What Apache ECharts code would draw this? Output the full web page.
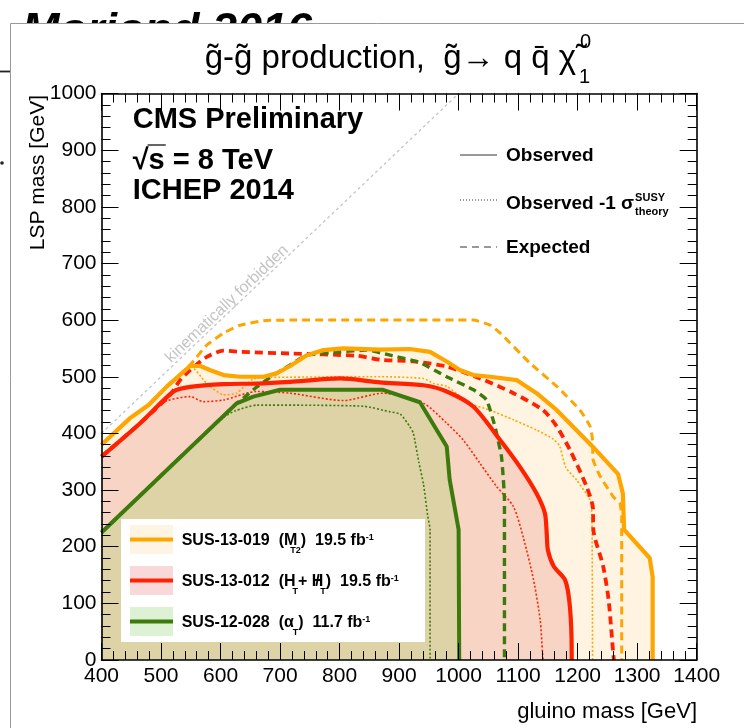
<!DOCTYPE html>
<html>
<head>
<meta charset="utf-8">
<script src="https://cdn.jsdelivr.net/npm/echarts@6/dist/echarts.min.js"></script>
<style>
  html, body { margin: 0; padding: 0; background: #fff; }
  #chart { width: 744px; height: 728px; }
</style>
</head>
<body>
<div id="chart"></div>
<script>
// Axis ticks (GeV)
const gluinoTicks = [400, 500, 600, 700, 800, 900, 1000, 1100, 1200, 1300, 1400];
const lspTicks = [0, 100, 200, 300, 400, 500, 600, 700, 800, 900, 1000];

// Kinematic boundary: LSP mass = gluino mass
const kinematicLimit = [[400, 400], [1000, 1000]];

// SUS-13-019 (MT2) exclusion contours [gluino mass, LSP mass]
const mt2Obs = [[400,380],[448,427],[479,450],[510,483],[549,519],[566,519],[582,512],[605,503],[633,500],[672,500],[694,506],[717,519],[745,538],[773,547],[806,550],[868,548],[918,549],[952,544],[980,527],[1002,512],[1025,503],[1053,500],[1098,494],[1131,471],[1165,441],[1225,377],[1268,328],[1276,294],[1278,230],[1321,180],[1326,147],[1326,0]];
const mt2ObsMinus = [[400,380],[448,427],[479,450],[510,483],[549,519],[577,488],[605,468],[627,471],[655,496],[700,499],[868,500],[941,497],[958,488],[980,483],[1019,453],[1053,441],[1092,424],[1131,406],[1159,390],[1170,377],[1180,340],[1198,318],[1221,282],[1224,253],[1225,0]];
const mt2Exp = [[400,380],[448,427],[479,450],[510,483],[549,521],[577,556],[605,577],[633,591],[672,599],[717,600],[1025,600],[1053,591],[1070,577],[1120,524],[1165,483],[1204,441],[1221,412],[1225,388],[1226,353],[1238,324],[1260,288],[1271,277],[1274,253],[1274,0]];

// SUS-13-012 (HT + missing HT) exclusion contours
const htmhtObs = [[400,359],[465,418],[521,474],[549,482],[605,487],[661,488],[717,491],[801,497],[868,490],[941,485],[980,474],[1025,447],[1070,388],[1103,341],[1131,294],[1145,259],[1148,224],[1150,194],[1160,165],[1179,141],[1187,94],[1190,12],[1190,0]];
const htmhtObsMinus = [[400,359],[465,418],[505,455],[549,465],[571,456],[605,459],[661,474],[717,471],[806,458],[873,471],[941,453],[980,418],[1008,388],[1036,347],[1064,306],[1092,271],[1109,215],[1126,141],[1137,71],[1141,12],[1142,0]];
const htmhtExp = [[400,359],[465,418],[515,468],[532,494],[549,512],[577,535],[605,546],[633,544],[717,541],[829,537],[868,530],[924,527],[980,518],[1036,497],[1092,471],[1142,441],[1165,412],[1187,371],[1215,306],[1226,265],[1226,235],[1243,165],[1252,106],[1260,9],[1261,0]];

// SUS-12-028 (alphaT) exclusion contours
const alphaTObs = [[400,225],[627,453],[655,465],[700,477],[873,477],[935,455],[980,377],[985,318],[1000,230],[1001,0]];
const alphaTObsMinus = [[400,225],[605,428],[625,440],[661,450],[840,448],[885,438],[902,434],[918,412],[924,400],[933,350],[941,310],[948,255],[952,230],[952,0]];
const alphaTExp = [[400,225],[627,453],[638,462],[661,482],[689,503],[717,521],[745,538],[801,544],[846,547],[885,538],[935,525],[980,500],[1025,477],[1047,459],[1061,412],[1072,359],[1077,282],[1077,0]];

const FONT = '"Liberation Sans", Arial, Helvetica, sans-serif';
const C_MT2 = '#FFA500', C_HT = '#FF2200', C_AT = '#3C7A0C';
const F_MT2 = '#FFF4E2', F_HT = '#F7D4C4', F_AT = '#DDD3A7';

// ---- text helpers: lay out runs with sub/superscripts using measured widths
const mctx = document.createElement('canvas').getContext('2d');
function fontOf(p) { return (p.italic ? 'italic ' : '') + (p.bold ? 'bold ' : '') + p.size + 'px ' + FONT; }
function widthOf(t, font) { mctx.font = font; return mctx.measureText(t).width; }
function runWidth(parts) {
  let w = 0;
  parts.forEach(p => { if (!p.stack) w += (p.dx || 0) + widthOf(p.t, fontOf(p)); });
  return w;
}
function textRun(x, y, parts, z) {
  const els = [];
  let cx = x;
  parts.forEach(p => {
    const font = fontOf(p);
    els.push({
      type: 'text', x: cx + (p.dx || 0), y: y + (p.dy || 0), z: z || 20, silent: true,
      style: { text: p.t, font: font, fill: p.color || '#000', align: 'left', verticalAlign: 'middle' }
    });
    if (!p.stack) cx += (p.dx || 0) + widthOf(p.t, font);
  });
  return els;
}

const graphics = [];
// slide header behind the figure panel
graphics.push({ type: 'text', x: 22, y: 32, z: 0, silent: true,
  style: { text: 'Moriond 2016', font: 'italic bold 45px ' + FONT, fill: '#000', align: 'left', verticalAlign: 'middle' } });
graphics.push({ type: 'line', z: 0, silent: true, shape: { x1: 0, y1: 71.5, x2: 10.5, y2: 71.5 }, style: { stroke: '#222', lineWidth: 1.8 } });
graphics.push({ type: 'circle', z: 0, silent: true, shape: { cx: 2, cy: 163, r: 1.8 }, style: { fill: '#222' } });
graphics.push({ type: 'rect', z: 1, silent: true, shape: { x: 10.5, y: 23.5, width: 760, height: 720 },
  style: { fill: '#fff', stroke: '#9a9a9a', lineWidth: 1 } });

// title
const titleParts = [
  { t: 'g\u0303-g\u0303 production,  g\u0303\u2192 q q\u0304 \u03C7\u0303', size: 33 },
  { t: '0', size: 20, dy: -16, dx: 4, stack: true },
  { t: '1', size: 20, dy: 19, dx: 3 }
];
graphics.push(...textRun(397.5 - runWidth(titleParts) / 2, 58.5, titleParts));

// experiment labels
graphics.push(...textRun(132.7, 119.5, [{ t: 'CMS Preliminary', size: 29, bold: true }]));
const sqrtW = widthOf('\u221A', fontOf({ size: 29, bold: true }));
const sW = widthOf('s', fontOf({ size: 29, bold: true }));
graphics.push(...textRun(132.7, 161, [{ t: '\u221As = 8 TeV', size: 29, bold: true }]));
graphics.push({ type: 'line', z: 20, silent: true, shape: { x1: 132.7 + sqrtW - 1, y1: 145, x2: 132.7 + sqrtW + sW + 1, y2: 145 },
  style: { stroke: '#000', lineWidth: 1.2 } });
graphics.push(...textRun(132.7, 191, [{ t: 'ICHEP 2014', size: 29, bold: true }]));

// line-style key
graphics.push({ type: 'line', z: 20, silent: true, shape: { x1: 460, y1: 155, x2: 497, y2: 155 }, style: { stroke: '#333', lineWidth: 1 } });
graphics.push({ type: 'line', z: 20, silent: true, shape: { x1: 460, y1: 200, x2: 497, y2: 200 }, style: { stroke: '#333', lineWidth: 1, lineDash: [1, 2] } });
graphics.push({ type: 'line', z: 20, silent: true, shape: { x1: 460, y1: 247, x2: 497, y2: 247 }, style: { stroke: '#333', lineWidth: 1, lineDash: [7, 5] } });
graphics.push(...textRun(506, 156, [{ t: 'Observed', size: 19, bold: true }]));
graphics.push(...textRun(506, 204, [
  { t: 'Observed -1 \u03C3', size: 19, bold: true },
  { t: 'SUSY', size: 11, bold: true, dy: -6.5, dx: 1, stack: true },
  { t: 'theory', size: 11, bold: true, dy: 7.5, dx: 1 }
]));
graphics.push(...textRun(506, 248, [{ t: 'Expected', size: 19, bold: true }]));

// analysis key box
graphics.push({ type: 'rect', z: 20, silent: true, shape: { x: 121, y: 519, width: 304, height: 123 }, style: { fill: '#fff' } });
const keyRows = [
  { y: 539.5, fill: '#FEF4E4', line: C_MT2, parts: [
    { t: 'SUS-13-019  (M', size: 16, bold: true },
    { t: 'T2', size: 9, bold: true, dy: 10, dx: -7 },
    { t: ')  19.5 fb', size: 16, bold: true },
    { t: '-1', size: 9, bold: true, dy: -3 } ] },
  { y: 580.5, fill: '#F8D8D9', line: C_HT, parts: [
    { t: 'SUS-13-012  (H', size: 16, bold: true },
    { t: 'T', size: 9, bold: true, dy: 10, dx: -3 },
    { t: '+ ', size: 16, bold: true },
    { t: '/', size: 16, bold: true, dx: 3.5, stack: true },
    { t: 'H', size: 16, bold: true },
    { t: 'T', size: 9, bold: true, dy: 10, dx: -3 },
    { t: ')  19.5 fb', size: 16, bold: true },
    { t: '-1', size: 9, bold: true, dy: -3 } ] },
  { y: 621.5, fill: '#DDF2D4', line: C_AT, parts: [
    { t: 'SUS-12-028  (\u03B1', size: 16, bold: true },
    { t: 'T', size: 9, bold: true, dy: 10, dx: -1 },
    { t: ')  11.7 fb', size: 16, bold: true },
    { t: '-1', size: 9, bold: true, dy: -3 } ] }
];
keyRows.forEach(r => {
  graphics.push({ type: 'rect', z: 21, silent: true, shape: { x: 130, y: r.y - 14.5, width: 43, height: 29 }, style: { fill: r.fill } });
  graphics.push({ type: 'line', z: 22, silent: true, shape: { x1: 130, y1: r.y, x2: 173, y2: r.y }, style: { stroke: r.line, lineWidth: 4 } });
  graphics.push(...textRun(181.7, r.y + 1.5, r.parts, 22));
});

// axis titles
graphics.push({ type: 'text', x: 38, y: 95, z: 20, rotation: Math.PI / 2, silent: true,
  style: { text: 'LSP mass [GeV]', font: '21px ' + FONT, fill: '#000', align: 'right', verticalAlign: 'middle' } });
graphics.push({ type: 'text', x: 697, y: 712, z: 20, silent: true,
  style: { text: 'gluino mass [GeV]', font: '22px ' + FONT, fill: '#000', align: 'right', verticalAlign: 'middle' } });

// label along the kinematic boundary
graphics.push({ type: 'text', x: 227, y: 304, z: 6, rotation: Math.atan2(0.5665, 0.5952), silent: true,
  style: { text: 'kinematically forbidden', font: '16px ' + FONT, fill: '#c4c4c4', align: 'center', verticalAlign: 'middle' } });

function axisCommon(ticks, showLabel, pos) {
  return {
    type: 'value', position: pos, min: ticks[0], max: ticks[ticks.length - 1], interval: ticks[1] - ticks[0], z: 10,
    axisLine: { show: true, onZero: false, lineStyle: { color: '#000', width: 1.6 } },
    axisTick: { show: true, inside: true, length: 17, lineStyle: { color: '#000', width: 1 } },
    minorTick: { show: true, splitNumber: 5, length: 9, lineStyle: { color: '#000', width: 1 } },
    axisLabel: { show: showLabel, fontSize: 21, color: '#000', fontFamily: FONT, hideOverlap: false,
      margin: pos === 'bottom' ? 6 : 5, formatter: v => String(v) },
    splitLine: { show: false }, minorSplitLine: { show: false }
  };
}

function fillSeries(data, color, z, smooth) {
  return { type: 'line', data, symbol: 'none', showSymbol: false, silent: true, z, smooth: smooth || false,
    lineStyle: { width: 0, opacity: 0 }, areaStyle: { color, opacity: 1 } };
}
function curveSeries(data, color, width, type, z, smooth) {
  return { type: 'line', data, symbol: 'none', showSymbol: false, silent: true, z, smooth: smooth || false,
    lineStyle: { color, width, type, join: 'round' } };
}

const DOT = [2, 2], DASH = [8, 5];
const option = {
  animation: false,
  textStyle: { fontFamily: FONT },
  grid: { left: 101.5, right: 47.3, top: 93.5, bottom: 68, containLabel: false, outerBoundsMode: 'none' },
  xAxis: [axisCommon(gluinoTicks, true, 'bottom'), axisCommon(gluinoTicks, false, 'top')],
  yAxis: [axisCommon(lspTicks, true, 'left'), axisCommon(lspTicks, false, 'right')],
  series: [
    fillSeries(mt2Obs, F_MT2, 2),
    fillSeries(htmhtObs, F_HT, 3, 0.25),
    fillSeries(alphaTObs, F_AT, 4),
    curveSeries(kinematicLimit, '#c8c8c8', 1.4, [3, 3], 5),
    curveSeries(mt2ObsMinus, C_MT2, 1.6, DOT, 6, 0.2),
    curveSeries(htmhtObsMinus, C_HT, 1.6, DOT, 6, 0.25),
    curveSeries(alphaTObsMinus, C_AT, 1.6, DOT, 6, 0.2),
    curveSeries(mt2Exp, C_MT2, 3, DASH, 7, 0.15),
    curveSeries(htmhtExp, C_HT, 3.8, DASH, 7, 0.25),
    curveSeries(alphaTExp, C_AT, 3.4, DASH, 7, 0.15),
    curveSeries(mt2Obs, C_MT2, 4.2, 'solid', 8),
    curveSeries(htmhtObs, C_HT, 4.2, 'solid', 8, 0.25),
    curveSeries(alphaTObs, C_AT, 4, 'solid', 8)
  ],
  graphic: { elements: graphics }
};

const chart = echarts.init(document.getElementById('chart'), null, { renderer: 'canvas' });
chart.setOption(option);
</script>
</body>
</html>
